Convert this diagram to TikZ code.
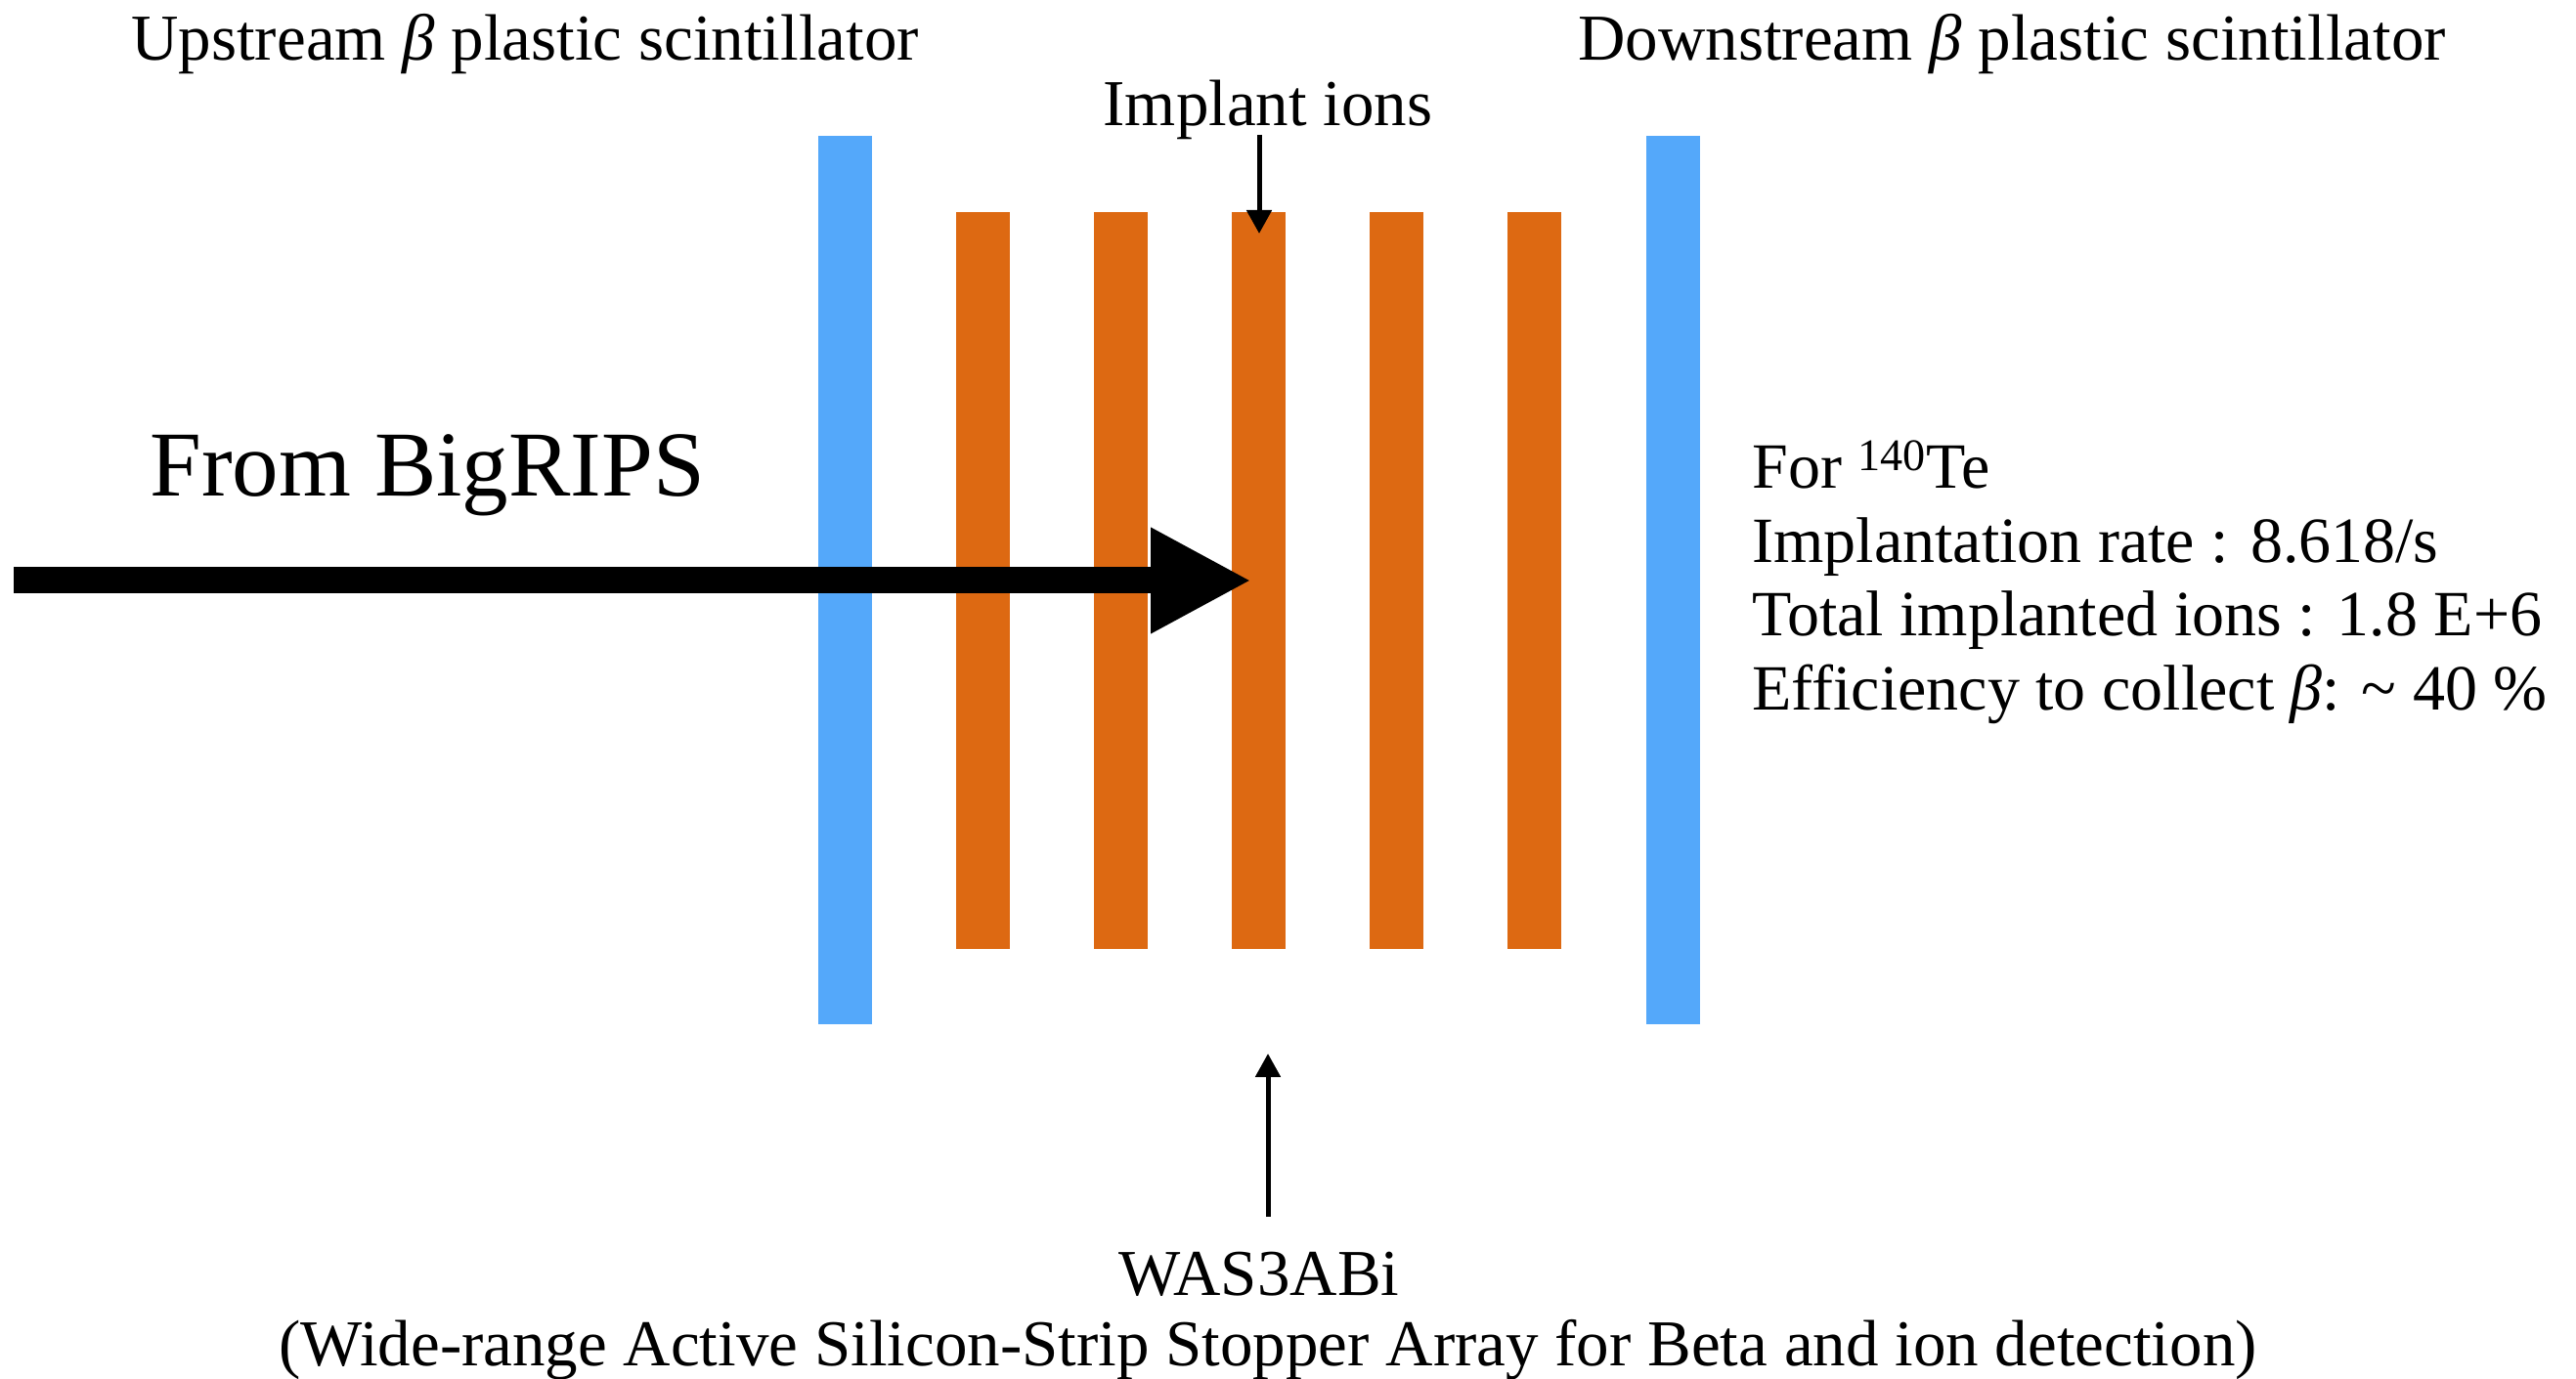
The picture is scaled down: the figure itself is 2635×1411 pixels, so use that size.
\documentclass[tikz,border=0pt]{standalone}
\usepackage{fontspec}
\setmainfont{Liberation Serif}
\usetikzlibrary{arrows.meta}
\definecolor{scintblue}{RGB}{84,168,250}
\definecolor{siorange}{RGB}{221,105,18}
\newcommand{\betasym}{{\itshape β}}
\begin{document}
\begin{tikzpicture}[x=0.5pt,y=-0.5pt,
  lbl/.style={inner sep=0pt, font=\fontsize{33.5}{40}\selectfont},
  bigl/.style={inner sep=0pt, font=\fontsize{47.5}{56}\selectfont},
  infol/.style={inner sep=0pt, align=left, font=\fontsize{33}{37.7}\selectfont},
  scint/.style={rectangle, draw=none, fill=scintblue, inner sep=0pt,
    minimum width=27.5pt, minimum height=454.5pt},
  sistrip/.style={rectangle, draw=none, fill=siorange, inner sep=0pt,
    minimum width=27.5pt, minimum height=377pt},
  pointer/.style={line width=2.5pt, -{Triangle[length=12pt,width=12.5pt]}},
  beam/.style={line width=13.5pt, -{Triangle[length=51.5pt,width=50.5pt]}}
]
\useasboundingbox (0,0) rectangle (2635,1411);

% plastic scintillators
\node[scint] (up) at (864.5,593.5) {};
\node[scint] (down) at (1711,593.5) {};

% silicon strip stack
\node[sistrip] (s1) at (1005.5,594) {};
\node[sistrip] (s2) at (1146.5,594) {};
\node[sistrip] (s3) at (1287.5,594) {};
\node[sistrip] (s4) at (1428.5,594) {};
\node[sistrip] (s5) at (1569.5,594) {};

% labels
\node[lbl, anchor=base west] (uplbl) at (134,62) {Upstream \betasym{} plastic scintillator};
\node[lbl, anchor=base west] (downlbl) at (1614,62) {Downstream \betasym{} plastic scintillator};
\node[lbl, anchor=base] (ions) at (1297,129) {Implant ions};
\node[bigl, anchor=base west] (from) at (153,508) {From BigRIPS};
% anchored on the baseline of its last line
\node[infol, anchor=base west] (info) at (1792,726)
  {For \textsuperscript{140}Te\\
   Implantation rate : 8.618/s\\
   Total implanted ions : 1.8 E+6\\
   Efficiency to collect \betasym: \textasciitilde{} 40 \%};
\node[lbl, anchor=base] (was) at (1288,1325) {WAS3ABi};
\node[lbl, anchor=base] (wasfull) at (1297,1397)
  {(Wide-range Active Silicon-Strip Stopper Array for Beta and ion detection)};

% beam arrow
\coordinate (beamstart) at (14,594);
\coordinate (beamstop) at (1280,594);
\draw[beam] (beamstart) -- (beamstop);

% pointers
\coordinate (ionsfoot) at (1288,138);
\coordinate (ionstip) at (1288,239);
\draw[pointer] (ionsfoot) -- (ionstip);
\coordinate (wasfoot) at (1297,1245);
\coordinate (wastip) at (1297,1078);
\draw[pointer] (wasfoot) -- (wastip);
\end{tikzpicture}
\end{document}
